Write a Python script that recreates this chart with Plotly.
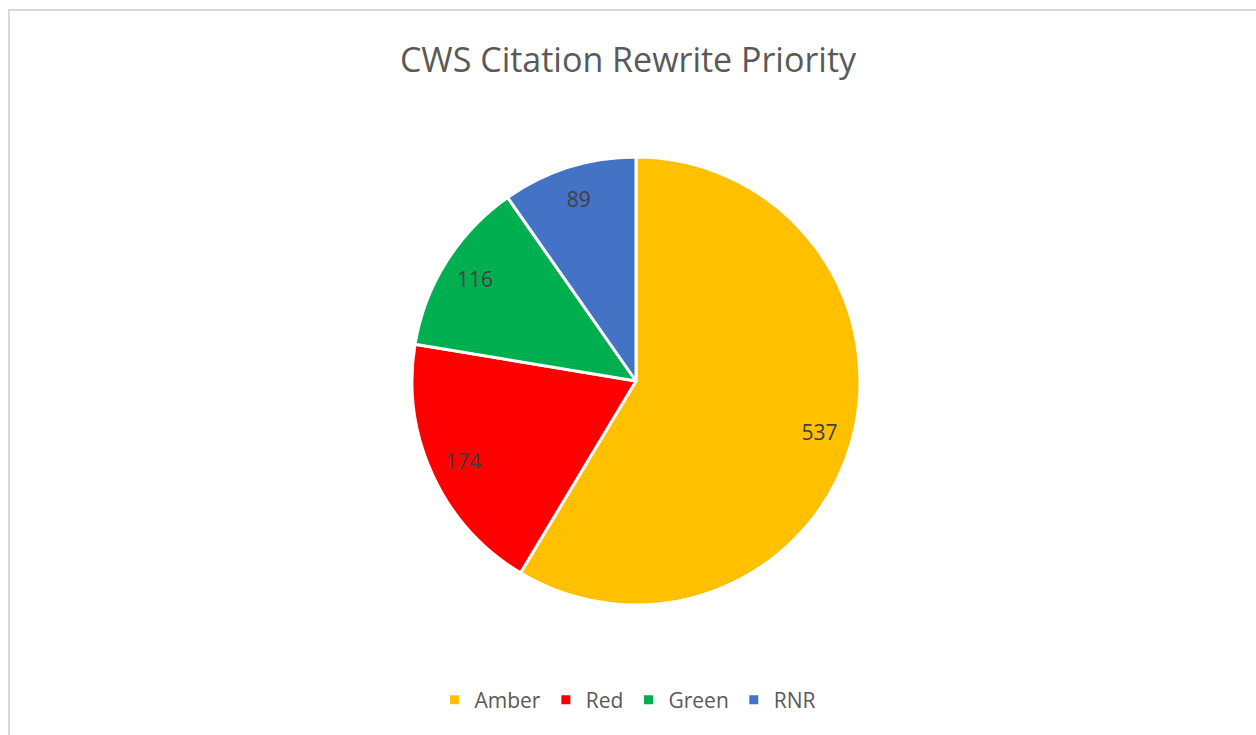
import plotly.graph_objects as go

categories = ["Amber", "Red", "Green", "RNR"]
values = [537, 174, 116, 89]
colors = ["#FFC000", "#FF0000", "#00B050", "#4472C4"]

W, H = 1256, 735
cx, cy, r = 636, 381, 224
dom = dict(x=[(cx - r) / W, (cx + r) / W], y=[(H - cy - r) / H, (H - cy + r) / H])

fig = go.Figure()
fig.add_trace(go.Pie(
    labels=categories,
    values=values,
    sort=False,
    direction="clockwise",
    rotation=0,
    marker=dict(colors=colors, line=dict(color="white", width=3)),
    textinfo="none",
    domain=dom,
    hoverinfo="label+value+percent",
))
# label-only ring so the value labels sit near the rim like the original
fig.add_trace(go.Pie(
    labels=categories,
    values=values,
    sort=False,
    direction="clockwise",
    rotation=0,
    hole=0.7,
    marker=dict(colors=["rgba(0,0,0,0)"] * len(values), line=dict(width=0)),
    textinfo="value",
    textposition="inside",
    insidetextorientation="horizontal",
    textfont=dict(family="Open Sans", size=21, color="#404040"),
    domain=dom,
    showlegend=False,
    hoverinfo="skip",
))

fig.update_layout(
    width=W, height=H,
    margin=dict(l=0, r=0, t=0, b=0),
    paper_bgcolor="white",
    title=dict(text="CWS Citation Rewrite Priority", x=0.5, xanchor="center",
               y=1 - 60 / H, yanchor="middle",
               font=dict(family="Open Sans", size=34, color="#595959")),
    legend=dict(orientation="h", x=0.5, xanchor="center", y=1 - 700 / H, yanchor="middle",
                font=dict(family="Open Sans", size=21, color="#595959"),
                traceorder="normal"),
    shapes=[dict(type="rect", xref="paper", yref="paper",
                 x0=9 / W, x1=1.05, y0=-0.05, y1=1 - 10 / H,
                 line=dict(color="#D9D9D9", width=2), fillcolor="rgba(0,0,0,0)")],
)

fig.write_html("out.html")
